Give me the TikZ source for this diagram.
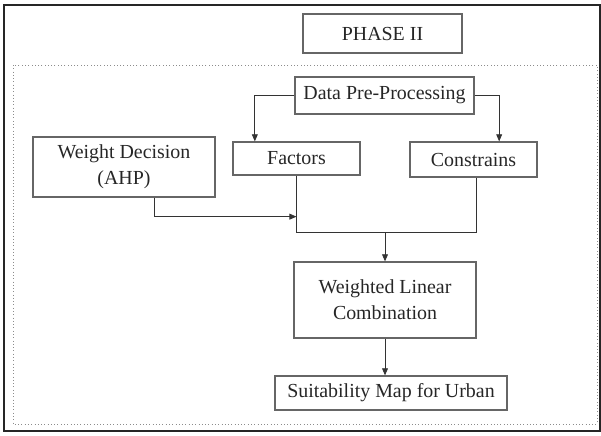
\documentclass[tikz,border=0pt]{standalone}
\usepackage{fontspec}
\setmainfont{Liberation Serif}
\usetikzlibrary{arrows.meta}

\begin{document}
\begin{tikzpicture}[x=0.03cm, y=-0.03cm,
  box/.style={draw=black!60, line width=1.1pt, inner sep=0pt, align=center, text=black!85, font=\fontsize{17}{22}\selectfont},
  arrow/.style={-{Triangle[length=6pt,width=5pt]}, line width=0.7pt, draw=black!80},
  link/.style={line width=0.7pt, draw=black!80}
]
\useasboundingbox (0,0) rectangle (601,435);
\draw[black!85, line width=1.3pt] (4,5) rectangle (600,431);
\draw[black!45, dotted, line width=0.8pt] (13,65) rectangle (597,424);

\node[box, minimum width=4.77cm, minimum height=1.17cm] (phase) at (382.5,33.5) {PHASE II};
\node[box, minimum width=5.37cm, minimum height=1.11cm] (prep) at (384.5,95.5) {Data Pre-Processing};
\node[box, minimum width=5.46cm, minimum height=1.8cm] (weight) at (124,167) {Weight Decision\\(AHP)};
\node[box, minimum width=3.81cm, minimum height=0.99cm] (factors) at (296.5,158.5) {Factors};
\node[box, minimum width=3.81cm, minimum height=1.05cm] (constr) at (473.5,159.5) {Constrains};
\node[box, minimum width=5.46cm, minimum height=2.28cm] (wlc) at (385,300) {Weighted Linear\\Combination};
\node[box, minimum width=6.96cm, minimum height=1.02cm] (suit) at (391,393) {Suitability Map for Urban};
\coordinate (join) at (385,232);

\draw[arrow] (prep.west) -| ([xshift=-1.25cm]factors.north);
\draw[arrow] (prep.east) -| ([xshift=0.77cm]constr.north);
\draw[arrow] ([xshift=0.9cm]weight.south) |- ([yshift=-1.23cm]factors.south);
\draw[link] (factors.south) |- (join) -| ([xshift=0.08cm]constr.south);
\draw[arrow] (join) -- (wlc.north);
\draw[arrow] (wlc.south) -- (wlc.south |- suit.north);
\end{tikzpicture}
\end{document}
